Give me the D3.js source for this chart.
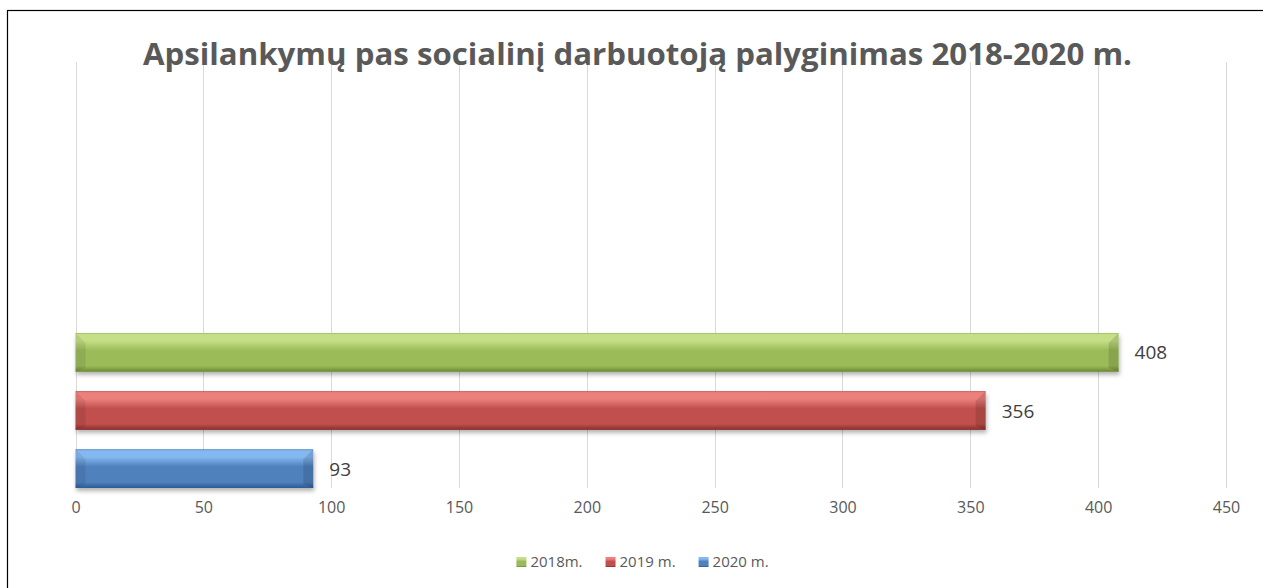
<!DOCTYPE html>
<html>
<head>
<meta charset="utf-8">
<script src="https://cdn.jsdelivr.net/npm/d3@7"></script>
<style>
  body { margin: 0; background: #fff; }
  text { font-family: "Open Sans", "Noto Sans", sans-serif; }
</style>
</head>
<body>
<div id="chart"></div>
<script>
// chart data
const title = "Apsilankymų pas socialinį darbuotoją palyginimas 2018-2020 m.";
const series = ["2018m.", "2019 m.", "2020 m."];
const values = [408, 356, 93];
const xTicks = [0, 50, 100, 150, 200, 250, 300, 350, 400, 450];
const colors = [
  { light: "#c4df86", base: "#9bbb59", dark: "#6b8733" },
  { light: "#ec807d", base: "#c0504d", dark: "#882c2a" },
  { light: "#84b8f0", base: "#4f81bd", dark: "#2d5a92" }
];

const width = 1263, height = 588;
const plot = { left: 75.5, right: 1226, top: 62, bottom: 488 };

const svg = d3.select("#chart").append("svg")
  .attr("width", width)
  .attr("height", height);

const defs = svg.append("defs");

// soft shadow under bars
const shadow = defs.append("filter").attr("id", "shadow")
  .attr("x", "-5%").attr("y", "-20%").attr("width", "110%").attr("height", "160%");
shadow.append("feDropShadow")
  .attr("dx", 1).attr("dy", 3).attr("stdDeviation", 2)
  .attr("flood-color", "#000").attr("flood-opacity", 0.3);

colors.forEach((c, i) => {
  const g = defs.append("linearGradient").attr("id", "grad" + i)
    .attr("x1", 0).attr("y1", 0).attr("x2", 0).attr("y2", 1);
  [[0, c.base], [0.04, c.light], [0.2, c.light], [0.45, c.base], [0.85, c.base], [1, c.dark]]
    .forEach(s => g.append("stop").attr("offset", s[0]).attr("stop-color", s[1]));
});

// outer border
svg.append("rect")
  .attr("x", 7.5).attr("y", 10.5)
  .attr("width", width).attr("height", height)
  .attr("fill", "none").attr("stroke", "#000").attr("stroke-width", 1.2);

// scales
const x = d3.scaleLinear()
  .domain([0, 450])
  .range([plot.left, plot.right]);

const y = d3.scaleBand()
  .domain(series)
  .range([333, plot.bottom])
  .paddingInner(0.333)
  .paddingOuter(0);

// gridlines
svg.append("g")
  .selectAll("line")
  .data(xTicks)
  .join("line")
  .attr("x1", d => Math.round(x(d)) + 0.5)
  .attr("x2", d => Math.round(x(d)) + 0.5)
  .attr("y1", plot.top)
  .attr("y2", plot.bottom)
  .attr("stroke", "#d9d9d9")
  .attr("stroke-width", 1);

// x axis labels
const xAxis = svg.append("g")
  .attr("transform", `translate(0,${plot.bottom})`)
  .call(d3.axisBottom(x).tickValues(xTicks).tickSize(0).tickPadding(14));
xAxis.select(".domain").remove();
xAxis.selectAll("text")
  .attr("font-family", "Open Sans")
  .attr("font-size", "16px")
  .attr("fill", "#595959");

// bars
const bars = svg.append("g")
  .selectAll("g")
  .data(series)
  .join("g")
  .attr("filter", "url(#shadow)");

const bevel = 10;
bars.append("rect")
  .attr("x", x(0))
  .attr("y", d => y(d))
  .attr("width", (d, i) => x(values[i]) - x(0))
  .attr("height", y.bandwidth())
  .attr("fill", (d, i) => `url(#grad${i})`);

// left and right bevel caps
bars.append("path")
  .attr("d", (d, i) => {
    const x0 = x(0), y0 = y(d), y1 = y(d) + y.bandwidth();
    return `M${x0},${y0}L${x0 + bevel},${y0 + bevel}L${x0 + bevel},${y1 - 4}L${x0},${y1}Z`;
  })
  .attr("fill", "#000").attr("opacity", 0.08);

bars.append("path")
  .attr("d", (d, i) => {
    const x1 = x(values[i]), y0 = y(d), y1 = y(d) + y.bandwidth();
    return `M${x1},${y0}L${x1 - bevel},${y0 + bevel}L${x1 - bevel},${y1 - 4}L${x1},${y1}Z`;
  })
  .attr("fill", "#000").attr("opacity", 0.12);

// value labels
svg.append("g")
  .selectAll("text")
  .data(series)
  .join("text")
  .attr("x", (d, i) => x(values[i]) + 16)
  .attr("y", d => y(d) + y.bandwidth() / 2 + 7)
  .attr("font-size", "19px")
  .attr("fill", "#404040")
  .text((d, i) => values[i]);

// title
svg.append("text")
  .attr("x", 637.5)
  .attr("y", 65)
  .attr("text-anchor", "middle")
  .attr("font-size", "30px")
  .attr("font-weight", "bold")
  .attr("fill", "#595959")
  .attr("textLength", 989)
  .attr("lengthAdjust", "spacingAndGlyphs")
  .text(title);

// legend
const legend = svg.append("g");
let lx = 0;
series.forEach((s, i) => {
  const item = legend.append("g").attr("transform", `translate(${lx},0)`);
  item.append("rect")
    .attr("x", 0).attr("y", -10)
    .attr("width", 10).attr("height", 10)
    .attr("fill", `url(#grad${i})`);
  const t = item.append("text")
    .attr("x", 14).attr("y", 0)
    .attr("font-size", "15px")
    .attr("fill", "#595959")
    .text(s);
  lx += 14 + t.node().getComputedTextLength() + 23;
});
const legendWidth = lx - 23;
legend.attr("transform", `translate(${642.5 - legendWidth / 2},567)`);
</script>
</body>
</html>
